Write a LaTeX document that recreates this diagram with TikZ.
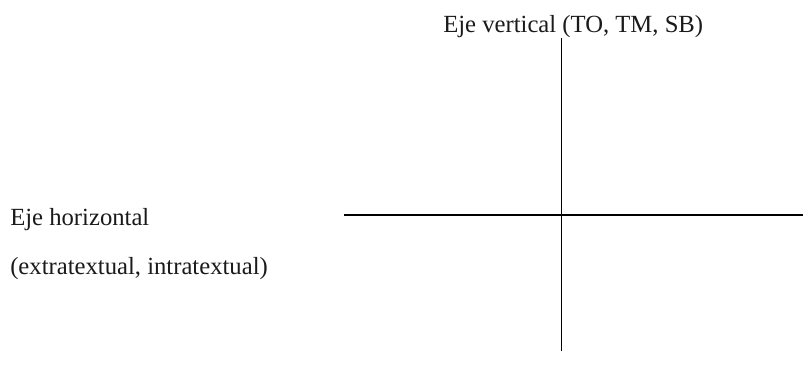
\documentclass[tikz,border=0pt]{standalone}
\usepackage{fontspec}
\setmainfont{Liberation Serif}
\usepackage{xcolor}
\definecolor{axisblack}{HTML}{000000}
\definecolor{labelgray}{HTML}{1A1A1A}

\begin{document}
\begin{tikzpicture}[x=0.75pt, y=-0.75pt,
    axislabel/.style={anchor=base west, inner sep=0, font=\fontsize{18.5}{22}\selectfont, text=labelgray},
    axisline/.style={draw=axisblack, line width=1.4pt}]
    \useasboundingbox (0,0) rectangle (803,379);

    % axes
    \coordinate (vtop) at (561.5,38);
    \coordinate (vbot) at (561.5,351);
    \coordinate (hleft) at (344,215);
    \coordinate (hright) at (803,215);
    \draw[axisline] (vtop) -- (vbot);
    \draw[axisline] (hleft) -- (hright);

    % labels
    \node[axislabel] (vlabel) at (443,32) {Eje vertical (TO, TM, SB)};
    \node[axislabel] (hlabel) at (10,225) {Eje horizontal};
    \node[axislabel] (hsub) at (10,274) {(extratextual, intratextual)};
    \end{tikzpicture}
\end{document}
